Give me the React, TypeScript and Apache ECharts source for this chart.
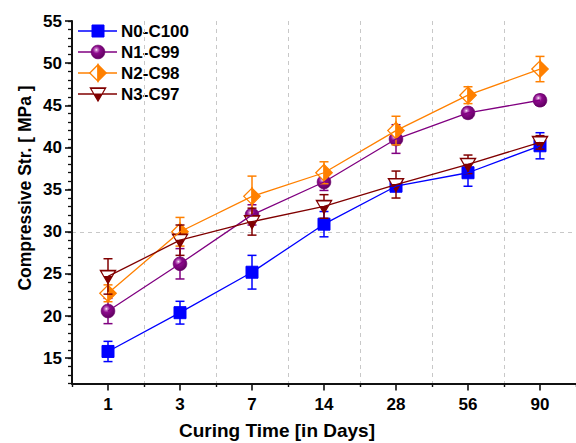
import React, { useEffect, useRef } from 'react';
import * as echarts from 'echarts';

// ---- data ----
const categories = ['1', '3', '7', '14', '28', '56', '90'];
const seriesNames = ['N0-C100', 'N1-C99', 'N2-C98', 'N3-C97'];
const n0Values = [15.8, 20.4, 25.2, 30.9, 35.4, 37.0, 40.2];
const n0Errors = [1.2, 1.35, 2.0, 1.5, 0.6, 1.6, 1.55];
const n1Values = [20.6, 26.2, 32.0, 35.9, 41.0, 44.1, 45.6];
const n1Errors = [1.5, 1.8, 1.2, 1.0, 1.7, 0.6, 0.6];
const n2Values = [22.7, 30.0, 34.2, 37.0, 42.0, 46.2, 49.3];
const n2Errors = [1.0, 1.7, 2.4, 1.3, 1.7, 1.0, 1.5];
const n3Values = [24.7, 29.0, 31.2, 33.0, 35.6, 38.0, 40.6];
const n3Errors = [2.1, 1.8, 1.6, 1.4, 1.6, 1.1, 0.8];
const yMajorTicks = [15, 20, 25, 30, 35, 40, 45, 50, 55];
const yMin = 12;
const yMax = 55;

const allValues = [n0Values, n1Values, n2Values, n3Values];
const allErrors = [n0Errors, n1Errors, n2Errors, n3Errors];
const colors = ['#0000FF', '#800080', '#FF8000', '#800000'];
const kinds = ['square', 'sphere', 'halfDiamond', 'halfTriangle'];

const FONT = '"Liberation Sans", Arial, Helvetica, sans-serif';
const GRID_COLOR = '#c8c8c8';

function markerShapes(kind: string, cx: number, cy: number, color: string): any[] {
  if (kind === 'square') {
    return [{ type: 'rect', shape: { x: cx - 6, y: cy - 6, width: 12, height: 12 }, style: { fill: color, stroke: color, lineWidth: 1 } }];
  }
  if (kind === 'sphere') {
    return [{
      type: 'circle',
      shape: { cx, cy, r: 6.8 },
      style: {
        fill: new echarts.graphic.RadialGradient(0.38, 0.34, 0.7, [
          { offset: 0, color: '#ffffff' },
          { offset: 0.14, color: '#c778c7' },
          { offset: 0.38, color: '#8c0a8c' },
          { offset: 1, color: '#5e005e' },
        ]),
        stroke: '#6a006a',
        lineWidth: 0.8,
      },
    }];
  }
  if (kind === 'halfDiamond') {
    const h = 8.2;
    return [
      { type: 'polygon', shape: { points: [[cx, cy - h], [cx - h, cy], [cx, cy + h]] }, style: { fill: '#ffffff', stroke: color, lineWidth: 1.3 } },
      { type: 'polygon', shape: { points: [[cx, cy - h], [cx + h, cy], [cx, cy + h]] }, style: { fill: color, stroke: color, lineWidth: 1.3 } },
    ];
  }
  // half triangle (inverted)
  const top = cy - 6;
  const bot = cy + 7;
  const hw = 7.6;
  const split = cy - 0.5;
  const shw = (hw * (bot - split)) / (bot - top);
  return [
    { type: 'polygon', shape: { points: [[cx - hw, top], [cx + hw, top], [cx, bot]] }, style: { fill: color, stroke: color, lineWidth: 1.3 } },
    { type: 'polygon', shape: { points: [[cx - hw + 1.3, top + 1], [cx + hw - 1.3, top + 1], [cx + shw - 0.6, split], [cx - shw + 0.6, split]] }, style: { fill: '#ffffff', stroke: 'none' } },
  ];
}

export default function App() {
  const ref = useRef<HTMLDivElement>(null);

  useEffect(() => {
    document.body.style.margin = '0';
    const chart = echarts.init(ref.current!, null, { renderer: 'svg' });

    const series: any[] = [];
    allValues.forEach((vals, k) => {
      const color = colors[k];
      const errs = allErrors[k];
      const data = vals.map((v, i) => [i, v, errs[i]]);
      series.push({
        type: 'custom',
        name: seriesNames[k] + ' err',
        xAxisIndex: 0,
        yAxisIndex: 0,
        silent: true,
        clip: false,
        encode: { x: 0, y: 1 },
        data,
        renderItem: (params: any, api: any) => {
          const x = api.value(0);
          const v = api.value(1);
          const e = api.value(2);
          const t = api.coord([x, v + e]);
          const b = api.coord([x, v - e]);
          const cw = 4.5;
          const st = { stroke: color, lineWidth: 1.5 };
          return {
            type: 'group',
            children: [
              { type: 'line', shape: { x1: t[0], y1: t[1], x2: b[0], y2: b[1] }, style: st },
              { type: 'line', shape: { x1: t[0] - cw, y1: t[1], x2: t[0] + cw, y2: t[1] }, style: st },
              { type: 'line', shape: { x1: b[0] - cw, y1: b[1], x2: b[0] + cw, y2: b[1] }, style: st },
            ],
          };
        },
      });
      series.push({
        type: 'line',
        name: seriesNames[k],
        xAxisIndex: 0,
        yAxisIndex: 0,
        data: vals,
        symbol: 'none',
        silent: true,
        lineStyle: { color, width: 1.3 },
        itemStyle: { color },
      });
      series.push({
        type: 'custom',
        name: seriesNames[k] + ' marker',
        xAxisIndex: 0,
        yAxisIndex: 0,
        silent: true,
        clip: false,
        encode: { x: 0, y: 1 },
        data: vals.map((v, i) => [i, v]),
        renderItem: (params: any, api: any) => {
          const p = api.coord([api.value(0), api.value(1)]);
          return { type: 'group', children: markerShapes(kinds[k], p[0], p[1], color) };
        },
      });
    });

    // legend drawn with graphic elements
    const legendChildren: any[] = [];
    seriesNames.forEach((name, k) => {
      const y = 31 + k * 21;
      legendChildren.push({ type: 'line', shape: { x1: 78, y1: y, x2: 117, y2: y }, style: { stroke: colors[k], lineWidth: 1.3 } });
      markerShapes(kinds[k], 98, y, colors[k]).forEach((s) => legendChildren.push(s));
      legendChildren.push({
        type: 'text',
        x: 121,
        y,
        style: { text: name, fill: '#000', font: `bold 17px ${FONT}`, textAlign: 'left', textVerticalAlign: 'middle' },
      });
    });

    const option: any = {
      animation: false,
      backgroundColor: '#ffffff',
      grid: { left: 72, right: -9.5, top: 21, bottom: 59.5, containLabel: false },
      xAxis: [
        {
          type: 'category',
          data: categories,
          position: 'bottom',
          boundaryGap: true,
          axisLine: { show: true, onZero: false, lineStyle: { color: '#111', width: 2 } },
          axisTick: { show: true, alignWithLabel: true, length: 7, lineStyle: { color: '#111', width: 1.6 } },
          axisLabel: { show: true, margin: 12, color: '#000', fontSize: 17, fontWeight: 'bold', fontFamily: FONT },
          splitLine: { show: true, lineStyle: { color: GRID_COLOR, width: 1, type: [4, 4] } },
        },
        {
          type: 'category',
          data: categories,
          position: 'bottom',
          boundaryGap: true,
          axisLine: { show: false, onZero: false },
          axisTick: { show: true, alignWithLabel: false, length: 3.5, lineStyle: { color: '#111', width: 1.4 } },
          axisLabel: { show: false },
          splitLine: { show: false },
        },
      ],
      yAxis: [
        {
          type: 'value',
          min: yMin,
          max: yMax,
          interval: 1,
          position: 'left',
          axisLine: { show: true, lineStyle: { color: '#111', width: 2 } },
          axisTick: { show: true, length: 7, customValues: yMajorTicks, lineStyle: { color: '#111', width: 1.6 } },
          axisLabel: { show: true, customValues: yMajorTicks, margin: 10, color: '#000', fontSize: 17, fontWeight: 'bold', fontFamily: FONT },
          splitLine: {
            show: true,
            showMaxLine: false,
            lineStyle: { color: ['transparent', 'transparent', 'transparent', GRID_COLOR, 'transparent'], width: 1, type: [4, 4] },
          },
        },
        {
          type: 'value',
          min: yMin,
          max: yMax,
          interval: 1,
          position: 'left',
          axisLine: { show: false },
          axisTick: { show: true, length: 4, lineStyle: { color: '#111', width: 1.3 } },
          axisLabel: { show: false },
          splitLine: { show: false },
        },
      ],
      series,
      graphic: [
        { type: 'group', children: legendChildren },
        {
          type: 'text',
          x: 25,
          y: 188,
          rotation: Math.PI / 2,
          style: { text: 'Compressive Str. [ MPa ]', fill: '#000', font: `bold 17.5px ${FONT}`, textAlign: 'center', textVerticalAlign: 'middle' },
        },
        {
          type: 'text',
          x: 277,
          y: 421,
          style: { text: 'Curing Time [in Days]', fill: '#000', font: `bold 19px ${FONT}`, textAlign: 'center', textVerticalAlign: 'top' },
        },
      ],
    };

    chart.setOption(option);
    return () => chart.dispose();
  }, []);

  return <div ref={ref} style={{ width: 576, height: 443 }} />;
}
